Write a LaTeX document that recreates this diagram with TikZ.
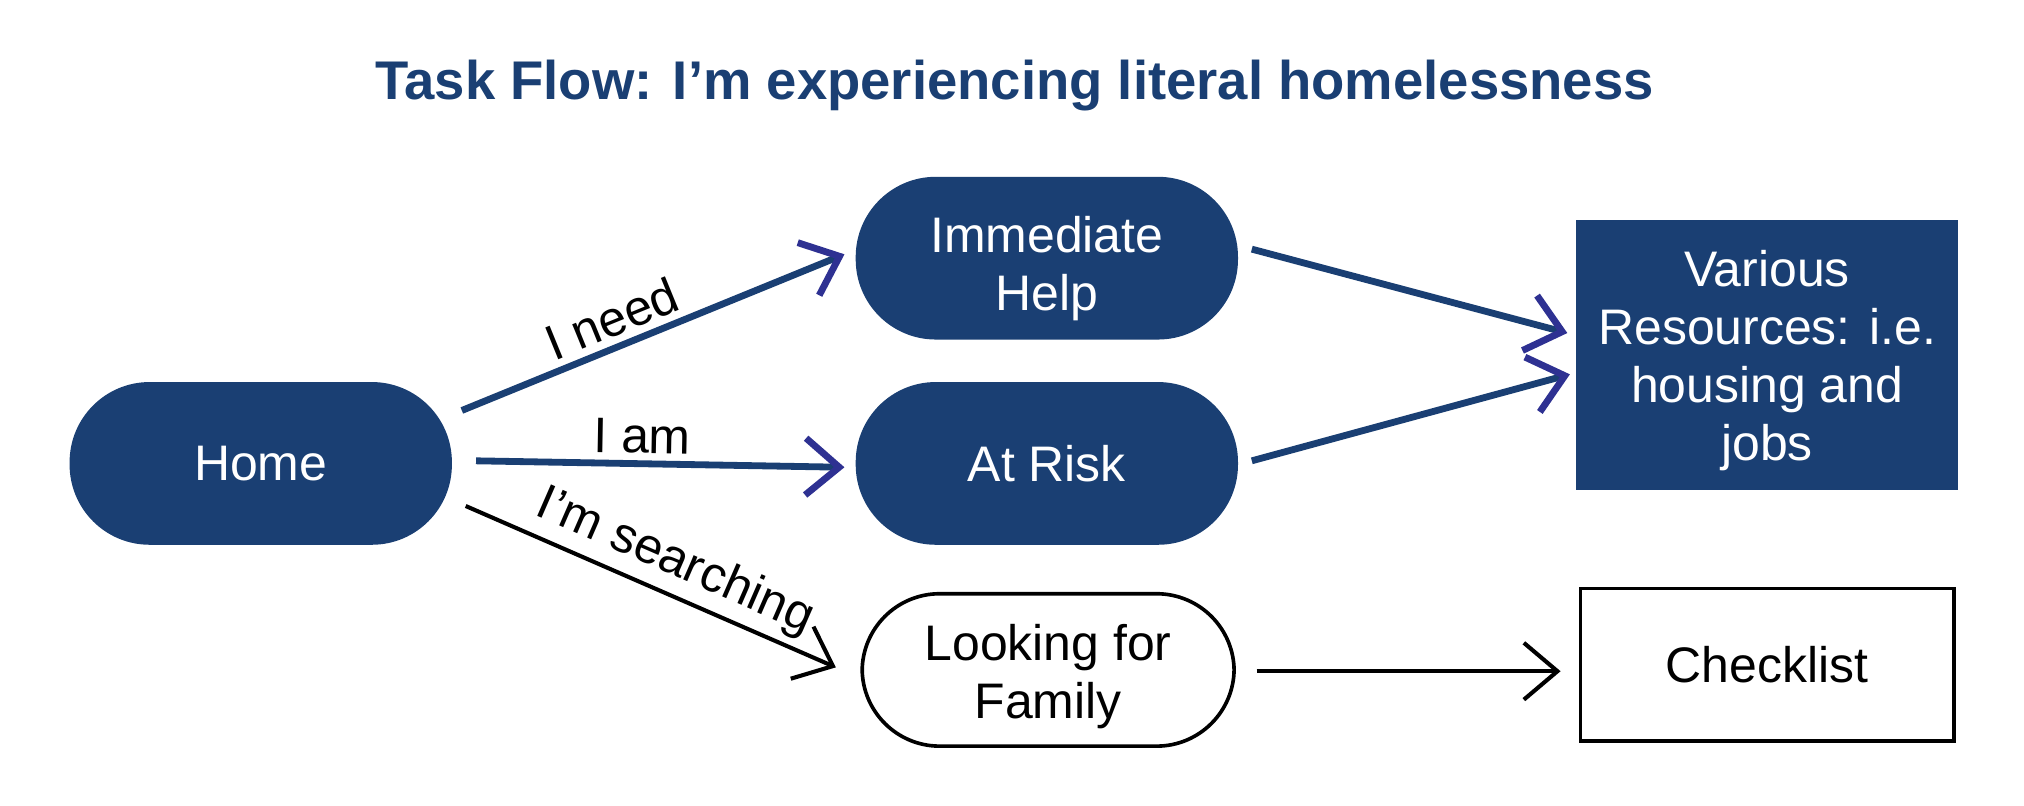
\documentclass[tikz,border=0pt]{standalone}
\usepackage{fontspec}
\setmainfont{Liberation Sans}
\usetikzlibrary{arrows.meta}
\definecolor{navy}{HTML}{1A3F73}
\definecolor{tipblue}{HTML}{2E3192}
\newcommand{\nodelines}[2]{\raisebox{-#1}[\height][\depth]{\begin{tabular}{@{}c@{}}#2\end{tabular}}}
\begin{document}
\begin{tikzpicture}[x=0.01cm, y=-0.01cm, font=\fontsize{11}{12.8}\selectfont,
    task/.style ={rounded corners=0.62cm, fill=navy, text=white, minimum width=2.96cm, minimum height=1.26cm, align=center},
    choice/.style ={rounded corners=0.6cm, draw, line width=0.8pt, minimum width=2.88cm, minimum height=1.18cm, align=center},
    resource/.style ={fill=navy, text=white, minimum width=2.96cm, minimum height=2.09cm, align=center},
    checkbox/.style ={draw, line width=0.8pt, minimum width=2.89cm, minimum height=1.18cm, align=center},
    answer/.style ={sloped, above, inner sep=1.5pt},
    blueflow/.style ={line width=1.5pt, draw=navy, -{Straight Barb[length=2.6mm, width=4.4mm, color=tipblue]}},
    blackflow/.style ={line width=0.9pt, -{Straight Barb[length=2.6mm, width=4.4mm]}}]
   \useasboundingbox (0,0) rectangle (1568,624);
   \node[font=\fontsize{12}{14}\selectfont\bfseries, text=navy] (title) at (786,66) {Task Flow: I’m experiencing literal homelessness};
   \node[task] (home) at (202,359) {Home};
   \node[task] (help) at (811,200) {\nodelines{2.5pt}{Immediate\\Help}};
   \node[task] (risk) at (811,359) {At Risk};
   \node[choice] (family) at (812,519) {\nodelines{1.7pt}{Looking for\\Family}};
   \node[resource] (various) at (1369,275) {\nodelines{1.5pt}{Various\\Resources: i.e.\\housing and\\jobs}};
   \node[checkbox] (checklist) at (1369,515) {Checklist};
   % from home
   \draw[blueflow] ([shift={(7,-41)}]home.east) -- node[answer, pos=0.42] {I need} ([shift={(-8,-3)}]help.west);
   \draw[blueflow] ([shift={(18,-2)}]home.east) -- node[answer, pos=0.45] {I am} ([shift={(-8,3)}]risk.west);
   \draw[blackflow] ([shift={(10,33)}]home.east) -- node[answer, pos=0.53] {I’m searching} ([shift={(-19,-2)}]family.west);
   % to the resources
   \draw[blueflow] ([shift={(10,-7)}]help.east) -- ([shift={(-6,-17)}]various.west);
   \draw[blueflow] ([shift={(10,-2)}]risk.east) -- ([shift={(-4,15)}]various.west);
   \draw[blackflow] ([shift={(16,1)}]family.east) -- ([shift={(-14,5)}]checklist.west);
\end{tikzpicture}
\end{document}
